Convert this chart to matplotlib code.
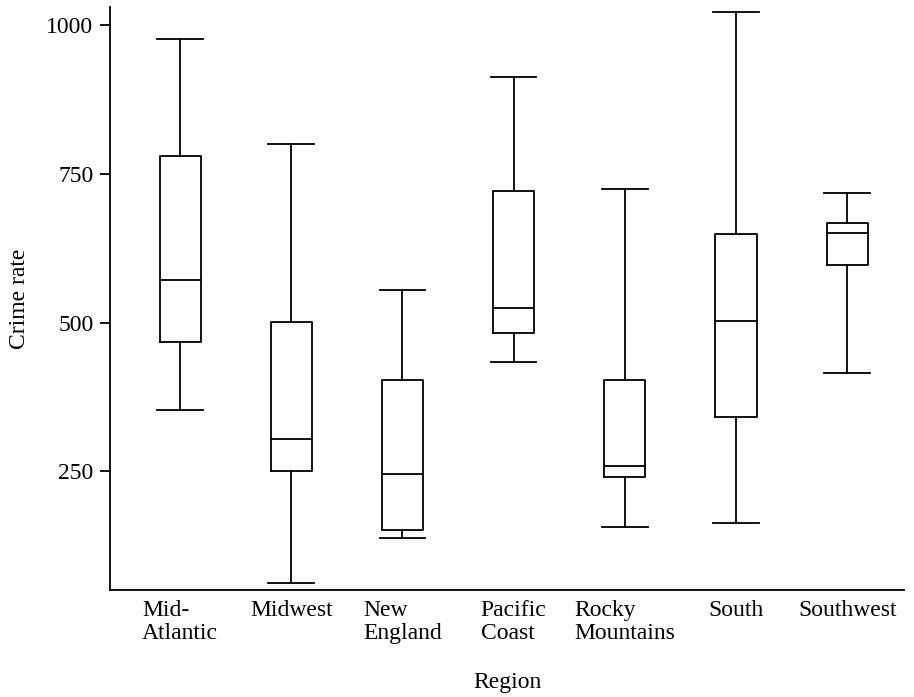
import matplotlib
matplotlib.use("Agg")
import matplotlib.pyplot as plt

regions = ["Mid-\nAtlantic", "Midwest", "New\nEngland", "Pacific\nCoast",
           "Rocky\nMountains", "South", "Southwest"]
whisker_low = [354, 63, 139, 434, 156, 163, 415]
q1 = [467, 250, 151, 482, 241, 341, 597]
median = [572, 305, 246, 524, 260, 502, 651]
q3 = [780, 501, 403, 721, 403, 649, 668]
whisker_high = [976, 800, 555, 913, 725, 1021, 718]
yticks = [250, 500, 750, 1000]

plt.rcParams['font.family'] = ['Liberation Serif', 'DejaVu Serif']

fig = plt.figure(figsize=(9.14, 6.97), dpi=100)
ax = fig.add_axes([0.1204, 0.1535, 0.8686, 0.8365])

stats = []
for i, lab in enumerate(regions):
    stats.append(dict(label=lab, whislo=whisker_low[i], q1=q1[i], med=median[i],
                      q3=q3[i], whishi=whisker_high[i], fliers=[]))

lw = 1.3
ax.bxp(stats, positions=range(len(regions)), widths=0.37, showfliers=False,
       boxprops=dict(color='black', linewidth=lw),
       medianprops=dict(color='black', linewidth=lw),
       whiskerprops=dict(color='black', linewidth=lw),
       capprops=dict(color='black', linewidth=lw),
       capwidths=0.41)

ax.set_xlim(-0.63, 6.51)
ax.set_ylim(51, 1030)
ax.set_yticks(yticks)
ax.set_yticklabels([str(v) for v in yticks], fontsize=17)
ax.set_xticks(range(len(regions)))
ax.set_xticklabels(regions, fontsize=17, multialignment='left', linespacing=1.15)
ax.tick_params(axis='x', length=0, pad=7)
ax.tick_params(axis='y', length=7, width=1.3, direction='out', pad=5)
for s in ['top', 'right']:
    ax.spines[s].set_visible(False)
for s in ['left', 'bottom']:
    ax.spines[s].set_linewidth(1.3)
ax.set_ylabel("Crime rate", fontsize=17, labelpad=12)
ax.set_xlabel("Region", fontsize=17, labelpad=20)

fig.savefig("out.png", dpi=100)
